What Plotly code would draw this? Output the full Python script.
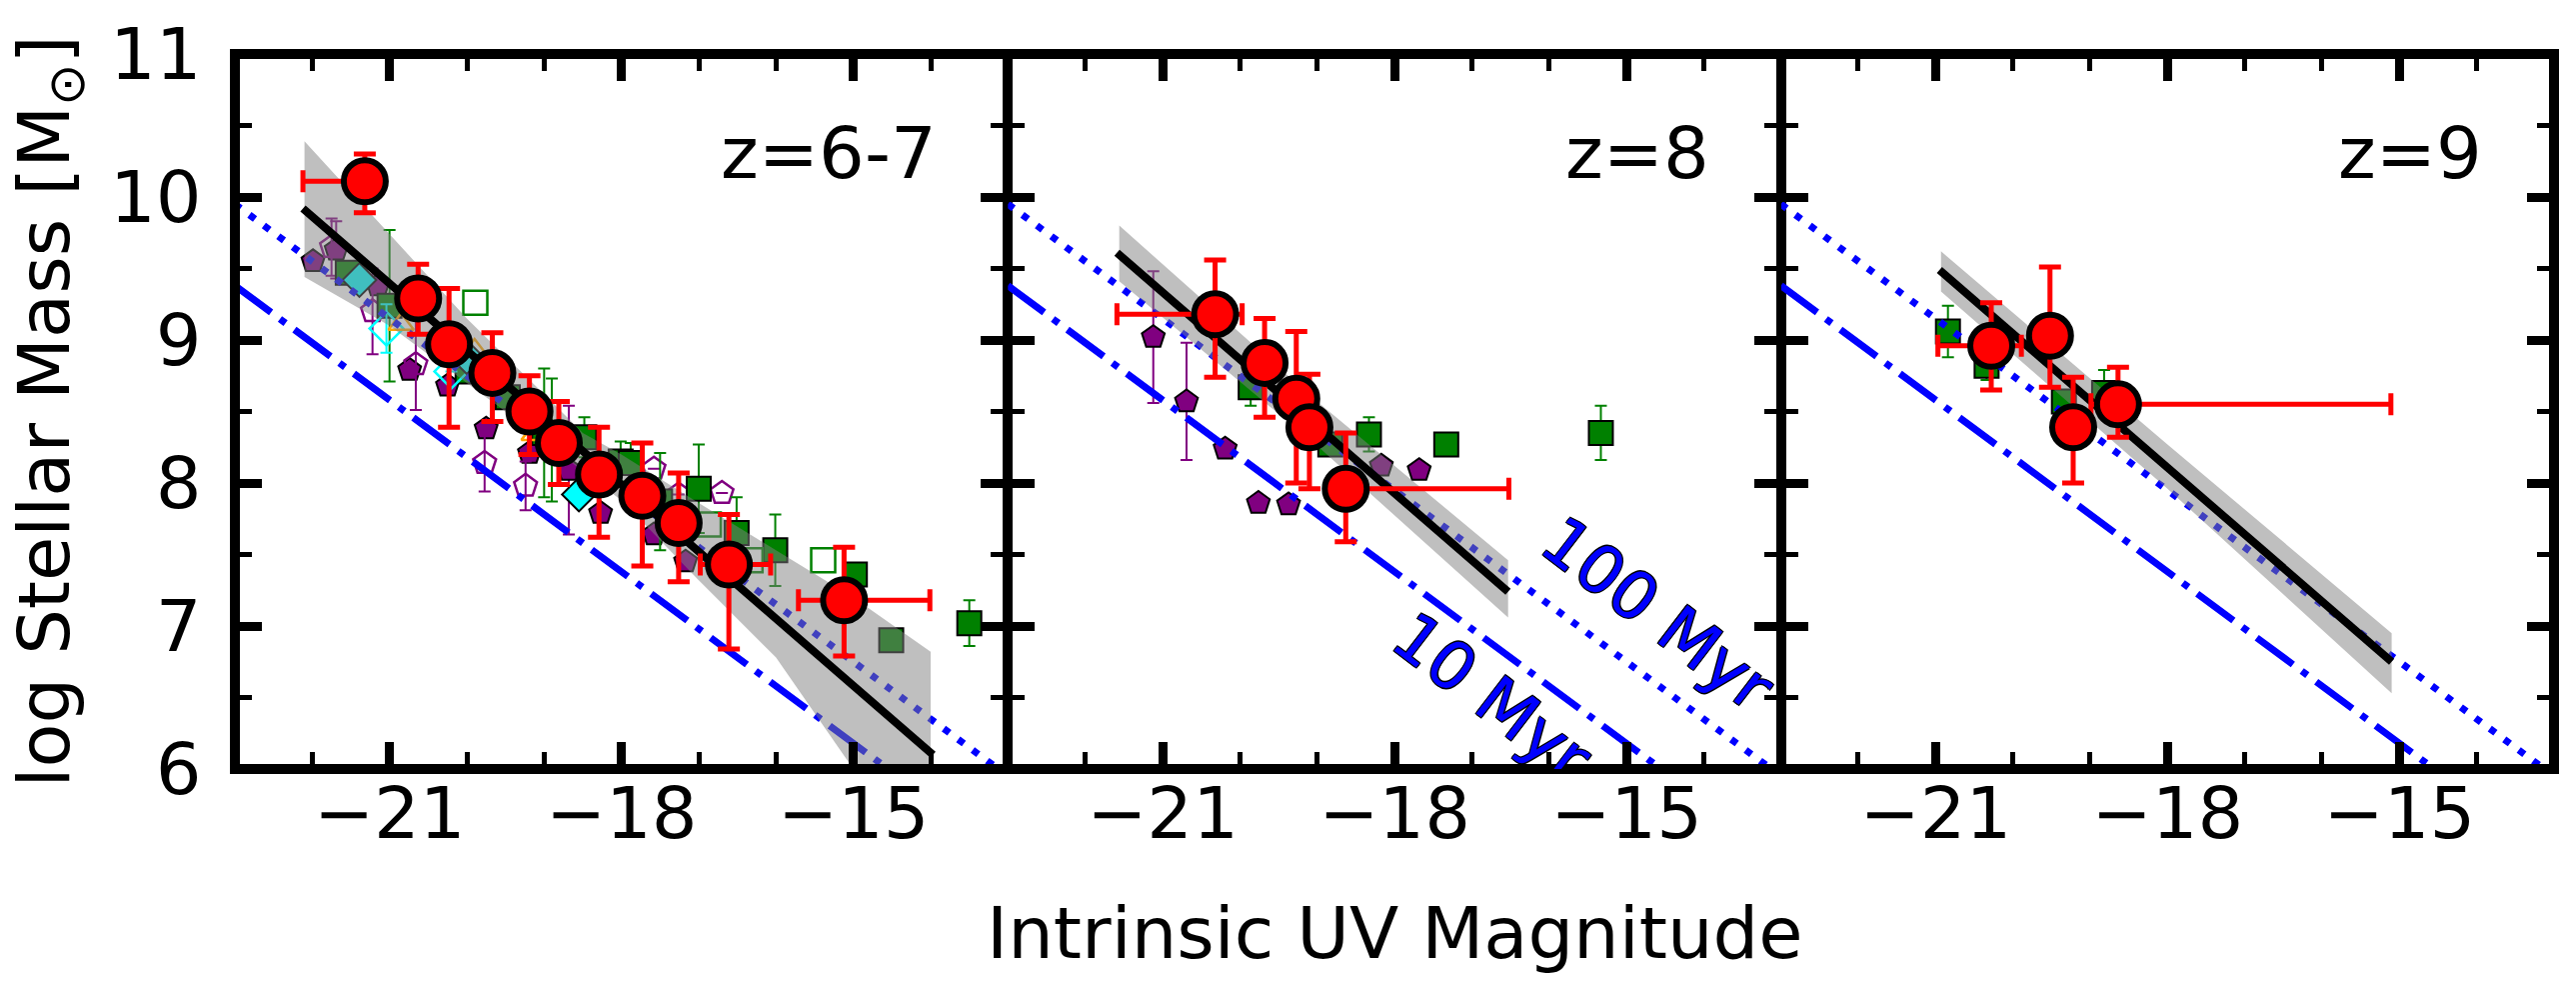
import plotly.graph_objects as go

# ---------------- data ----------------
# axis ranges / ticks
x_range = [-23, -13]
y_range = [6, 11]
panel_labels = ["z=6-7", "z=8", "z=9"]

# constant-age reference lines (same in all panels)
age_mag = [-23.0, -13.0]
age100_logm = [9.95, 5.95]
age10_logm = [9.38, 5.38]

# ---- panel 1 : z=6-7 ----
p1_mag = [-21.32, -20.63, -20.23, -19.67, -19.19, -18.81, -18.29, -17.73, -17.26, -16.61, -15.12]
p1_logm = [10.11, 9.29, 8.97, 8.77, 8.50, 8.28, 8.06, 7.91, 7.72, 7.43, 7.18]
p1_yplus = [0.19, 0.24, 0.39, 0.28, 0.25, 0.29, 0.33, 0.37, 0.35, 0.35, 0.37]
p1_yminus = [0.22, 0.25, 0.58, 0.34, 0.30, 0.29, 0.44, 0.49, 0.41, 0.59, 0.39]
p1_xplus = [0.20, 0, 0, 0, 0, 0, 0, 0, 0, 0.54, 1.11]
p1_xminus = [0.80, 0, 0, 0, 0, 0, 0, 0, 0, 0.37, 0.59]
p1_fit_mag = [-22.12, -13.97]
p1_fit_logm = [9.92, 6.10]
p1_band_mag = [-22.1, -21.0, -20.0, -19.0, -18.5, -18.0, -17.0, -16.0, -15.0, -14.0]
p1_band_up = [10.39, 9.74, 9.15, 8.62, 8.35, 8.20, 7.86, 7.53, 7.20, 6.82]
p1_band_lo = [9.44, 9.10, 8.70, 8.30, 8.08, 7.88, 7.32, 6.78, 6.00, 5.40]

# literature points, panel 1
p1_pent_mag = [-21.99, -21.69, -21.15, -20.74, -20.25, -19.75, -19.19, -18.68, -18.27, -17.58, -17.17]
p1_pent_logm = [9.55, 9.63, 9.38, 8.79, 8.68, 8.38, 8.21, 8.09, 7.79, 7.64, 7.45]
p1_pent_err = [0.0, 0.20, 0.0, 0.0, 0.0, 0.0, 0.0, 0.45, 0.0, 0.0, 0.0]
p1_opent_mag = [-21.75, -21.22, -20.66, -19.77, -19.24, -17.58, -17.26, -16.70]
p1_opent_logm = [9.65, 9.20, 8.83, 8.14, 7.98, 8.10, 7.92, 7.93]
p1_opent_err = [0.20, 0.30, 0.32, 0.20, 0.17, 0.0, 0.0, 0.0]
p1_sq_mag = [-21.54, -21.00, -19.99, -19.47, -19.00, -18.90, -18.48, -18.01, -17.88, -17.50, -17.00, -16.51, -16.01, -14.98, -14.51, -13.50]
p1_sq_logm = [9.47, 9.24, 8.78, 8.60, 8.35, 8.30, 8.32, 8.15, 8.14, 7.87, 7.96, 7.65, 7.53, 7.36, 6.90, 7.02]
p1_sq_err = [0.0, 0.53, 0.0, 0.0, 0.45, 0.43, 0.14, 0.14, 0.14, 0.34, 0.31, 0.25, 0.25, 0.0, 0.0, 0.16]
p1_osq_mag = [-19.89, -16.87, -16.33, -15.39]
p1_osq_logm = [9.26, 7.71, 7.46, 7.46]
p1_dia_mag = [-21.39, -20.00, -18.55]
p1_dia_logm = [9.42, 8.88, 7.92]
p1_odia_mag = [-21.04, -20.20]
p1_odia_logm = [9.08, 8.78]
p1_odia_err = [0.17, 0.0]
p1_tri_mag = [-20.85, -19.90, -19.13]
p1_tri_logm = [9.11, 8.93, 8.34]

# ---- panel 2 : z=8 ----
p2_mag = [-20.32, -19.68, -19.27, -19.10, -18.63]
p2_logm = [9.18, 8.84, 8.59, 8.39, 7.96]
p2_yplus = [0.38, 0.31, 0.47, 0.37, 0.39]
p2_yminus = [0.44, 0.38, 0.59, 0.43, 0.37]
p2_xplus = [0.35, 0, 0, 0, 2.11]
p2_xminus = [1.27, 0, 0, 0, 0.10]
p2_fit_mag = [-21.59, -16.53]
p2_fit_logm = [9.61, 7.24]
p2_band_mag = [-21.56, -19.0, -16.53]
p2_band_up = [9.80, 8.57, 7.46]
p2_band_lo = [9.41, 8.26, 7.06]
p2_pent_mag = [-21.12, -20.69, -20.19, -19.76, -19.37, -18.17, -17.68]
p2_pent_logm = [9.02, 8.57, 8.24, 7.86, 7.85, 8.12, 8.09]
p2_pent_err = [0.46, 0.41, 0.0, 0.0, 0.0, 0.0, 0.0]
p2_sq_mag = [-19.86, -18.83, -18.33, -17.33, -15.33]
p2_sq_logm = [8.67, 8.27, 8.34, 8.27, 8.35]
p2_sq_err = [0.13, 0.05, 0.12, 0.04, 0.19]

# ---- panel 3 : z=9 ----
p3_mag = [-20.28, -19.52, -19.22, -18.64]
p3_logm = [8.96, 9.03, 8.39, 8.55]
p3_yplus = [0.30, 0.48, 0.35, 0.26]
p3_yminus = [0.31, 0.36, 0.39, 0.23]
p3_xplus = [0.39, 0, 0, 3.53]
p3_xminus = [0.69, 0, 0, 0.35]
p3_fit_mag = [-20.95, -15.10]
p3_fit_logm = [9.49, 6.75]
p3_band_mag = [-20.93, -18.0, -15.10]
p3_band_up = [9.62, 8.27, 6.95]
p3_band_lo = [9.34, 7.96, 6.53]
p3_sq_mag = [-20.84, -20.34, -19.34, -18.82]
p3_sq_logm = [9.06, 8.82, 8.57, 8.63]
p3_sq_err = [0.18, 0.10, 0.0, 0.16]

# ---------------- styling ----------------
FONT = "DejaVu Sans"
PURPLE = "#800080"
GREEN = "#008000"
CYAN = "#00FFFF"
ORANGE = "#FFA500"
RED = "#FF0000"
BLUE = "#0000FF"
BAND = "rgba(128,128,128,0.5)"
OUTLINE = "1px 1px 0 #000, -1px -1px 0 #000, 1px -1px 0 #000, -1px 1px 0 #000"

fig = go.Figure()


def lit(mag, logm, xa, ya, symbol, color, size, err=None, filled=True):
    marker = dict(symbol=symbol, size=size)
    if filled:
        marker.update(color=color, line=dict(color="black", width=2))
    else:
        marker.update(color=color, line=dict(color=color, width=2.5))
    tr = go.Scatter(x=mag, y=logm, mode="markers", marker=marker,
                    xaxis=xa, yaxis=ya, showlegend=False, hoverinfo="skip")
    if err is not None:
        tr.error_y = dict(type="data", array=err, color=color,
                          thickness=2, width=6)
    fig.add_trace(tr)


def common(xa, ya, band_mag, band_up, band_lo, fit_mag, fit_logm,
           mag, logm, yp, ym, xp, xm):
    # constant age lines
    fig.add_trace(go.Scatter(x=age_mag, y=age100_logm, mode="lines",
                             line=dict(color=BLUE, width=7, dash="7px,11px"),
                             xaxis=xa, yaxis=ya, showlegend=False, hoverinfo="skip"))
    fig.add_trace(go.Scatter(x=age_mag, y=age10_logm, mode="lines",
                             line=dict(color=BLUE, width=7, dash="45px,11px,7px,11px"),
                             xaxis=xa, yaxis=ya, showlegend=False, hoverinfo="skip"))
    # uncertainty band
    fig.add_trace(go.Scatter(x=list(band_mag) + list(band_mag)[::-1],
                             y=list(band_up) + list(band_lo)[::-1],
                             mode="lines", fill="toself", fillcolor=BAND,
                             line=dict(width=0, color=BAND),
                             xaxis=xa, yaxis=ya, showlegend=False, hoverinfo="skip"))
    # best fit
    fig.add_trace(go.Scatter(x=fit_mag, y=fit_logm, mode="lines",
                             line=dict(color="black", width=8),
                             xaxis=xa, yaxis=ya, showlegend=False, hoverinfo="skip"))
    # our points
    fig.add_trace(go.Scatter(
        x=mag, y=logm, mode="markers",
        marker=dict(symbol="circle", size=42, color=RED,
                    line=dict(color="black", width=6)),
        error_y=dict(type="data", symmetric=False, array=yp, arrayminus=ym,
                     color=RED, thickness=5, width=11),
        error_x=dict(type="data", symmetric=False, array=xp, arrayminus=xm,
                     color=RED, thickness=5, width=11),
        xaxis=xa, yaxis=ya, showlegend=False, hoverinfo="skip"))


# panel 1
lit(p1_pent_mag, p1_pent_logm, "x", "y", "pentagon", PURPLE, 24, p1_pent_err)
lit(p1_opent_mag, p1_opent_logm, "x", "y", "pentagon-open", PURPLE, 24, p1_opent_err, filled=False)
lit(p1_sq_mag, p1_sq_logm, "x", "y", "square", GREEN, 24, p1_sq_err)
lit(p1_osq_mag, p1_osq_logm, "x", "y", "square-open", GREEN, 24, None, filled=False)
lit(p1_odia_mag, p1_odia_logm, "x", "y", "diamond-open", CYAN, 26, p1_odia_err, filled=False)
lit(p1_tri_mag, p1_tri_logm, "x", "y", "triangle-up-open", ORANGE, 22, None, filled=False)
lit(p1_dia_mag, p1_dia_logm, "x", "y", "diamond", CYAN, 26, None)
common("x", "y", p1_band_mag, p1_band_up, p1_band_lo, p1_fit_mag, p1_fit_logm,
       p1_mag, p1_logm, p1_yplus, p1_yminus, p1_xplus, p1_xminus)

# panel 2
lit(p2_pent_mag, p2_pent_logm, "x2", "y2", "pentagon", PURPLE, 24, p2_pent_err)
lit(p2_sq_mag, p2_sq_logm, "x2", "y2", "square", GREEN, 24, p2_sq_err)
common("x2", "y2", p2_band_mag, p2_band_up, p2_band_lo, p2_fit_mag, p2_fit_logm,
       p2_mag, p2_logm, p2_yplus, p2_yminus, p2_xplus, p2_xminus)

# panel 3
lit(p3_sq_mag, p3_sq_logm, "x3", "y3", "square", GREEN, 24, p3_sq_err)
common("x3", "y3", p3_band_mag, p3_band_up, p3_band_lo, p3_fit_mag, p3_fit_logm,
       p3_mag, p3_logm, p3_yplus, p3_yminus, p3_xplus, p3_xminus)

# ---------------- axes ----------------
tickfont = dict(family=FONT, size=72, color="black")
AXLW = 5     # each panel's own line (drawn outside its domain edge)
FRAMEW = 10  # outer frame drawn centred on the plot-area edge


def xaxis(domain, anchor):
    return dict(domain=domain, anchor=anchor, range=x_range, tick0=-21, dtick=3,
                ticks="inside", ticklen=27, tickwidth=9, tickcolor="black",
                mirror="allticks", showline=True, linewidth=AXLW, linecolor="black",
                showgrid=False, zeroline=False, tickfont=tickfont,
                ticklabelstandoff=-22,
                minor=dict(ticks="inside", ticklen=17, tickwidth=5, tickcolor="black",
                           dtick=1, tick0=-21, showgrid=False))


def yaxis(anchor, labels):
    return dict(anchor=anchor, range=y_range, tick0=6, dtick=1,
                ticks="inside", ticklen=27, tickwidth=9, tickcolor="black",
                mirror="allticks", showline=True, linewidth=AXLW, linecolor="black",
                showgrid=False, zeroline=False, tickfont=tickfont,
                showticklabels=labels, ticklabelstandoff=14,
                minor=dict(ticks="inside", ticklen=17, tickwidth=5, tickcolor="black",
                           dtick=0.5, tick0=6, showgrid=False))


annotations = []
for i, (lab, xr, yr) in enumerate(zip(panel_labels, ["x", "x2", "x3"], ["y", "y2", "y3"])):
    annotations.append(dict(text=lab, x=-13.9, y=10.31, xref=xr, yref=yr,
                            xanchor="right", yanchor="middle", showarrow=False,
                            font=dict(family=FONT, size=72, color="black")))

annotations.append(dict(text="Intrinsic UV Magnitude", x=0.5, y=-0.229,
                        xref="paper", yref="paper", xanchor="center", yanchor="middle",
                        showarrow=False, font=dict(family=FONT, size=72, color="black")))
annotations.append(dict(text="log Stellar Mass [M<sub>⊙</sub>]", x=-0.0806, y=0.5,
                        xref="paper", yref="paper", xanchor="center", yanchor="middle",
                        textangle=-90, showarrow=False,
                        font=dict(family=FONT, size=72, color="black")))

shapes = [
    # outer frame
    dict(type="rect", xref="paper", yref="paper", x0=0, y0=0, x1=1, y1=1,
         layer="above", line=dict(color="black", width=FRAMEW), fillcolor="rgba(0,0,0,0)"),
    # age labels (clipped to the panel like the reference)
    dict(type="line", xref="x2", yref="y2", layer="above",
         x0=-15.06, y0=7.318, x1=-14.06, y1=6.904,
         line=dict(width=0, color="rgba(0,0,0,0)"),
         label=dict(text="100 Myr", textposition="middle",
                    xanchor="center", yanchor="middle", padding=0,
                    font=dict(family=FONT, size=66, color=BLUE, shadow=OUTLINE))),
    dict(type="line", xref="x2", yref="y2", layer="above",
         x0=-17.2, y0=6.737, x1=-16.2, y1=6.323,
         line=dict(width=0, color="rgba(0,0,0,0)"),
         label=dict(text="10 Myr", textposition="middle",
                    xanchor="center", yanchor="middle", padding=0,
                    font=dict(family=FONT, size=66, color=BLUE, shadow=OUTLINE))),
]

fig.update_layout(
    width=2577, height=989,
    margin=dict(l=235, r=22, t=52, b=220),
    paper_bgcolor="white", plot_bgcolor="white",
    font=dict(family=FONT, color="black"),
    showlegend=False,
    xaxis=xaxis([0, 1 / 3], "y"),
    xaxis2=xaxis([1 / 3, 2 / 3], "y2"),
    xaxis3=xaxis([2 / 3, 1], "y3"),
    yaxis=yaxis("x", True),
    yaxis2=yaxis("x2", False),
    yaxis3=yaxis("x3", False),
    annotations=annotations,
    shapes=shapes,
)

fig.write_html("out.html")
